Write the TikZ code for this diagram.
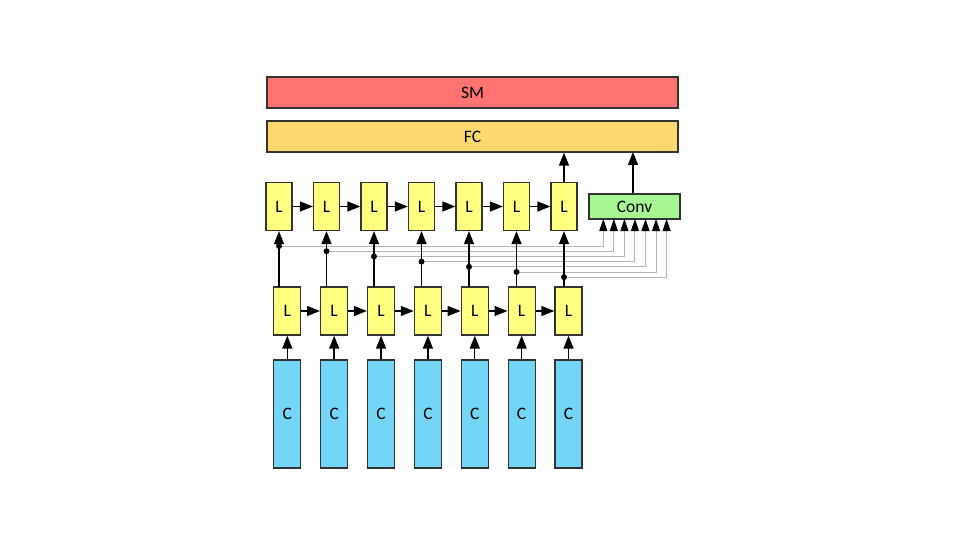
\documentclass[tikz,border=0pt]{standalone}
\usepackage{fontspec}
\setmainfont{Carlito}
\usetikzlibrary{arrows.meta}
\definecolor{smred}{RGB}{255,115,115}
\definecolor{fcyel}{RGB}{255,217,112}
\definecolor{lyel}{RGB}{255,255,128}
\definecolor{cblue}{RGB}{115,214,247}
\definecolor{convgr}{RGB}{166,247,146}
\definecolor{wire}{RGB}{180,180,180}
\tikzset{
  box/.style={draw=black!80, line width=1.3pt, inner sep=0pt, font=\fontsize{17.5}{20}\selectfont},
  lbox/.style={box, fill=lyel, minimum width=26pt, minimum height=48pt},
  cbox/.style={box, fill=cblue, minimum width=27pt, minimum height=108pt},
  arr/.style={line width=1.4pt, -{Triangle[length=13pt,width=10pt]}},
  garr/.style={wire, line width=1pt, -{Triangle[length=12pt,width=8pt,color=black]}},
  jdot/.style={circle, fill=black, inner sep=0pt, minimum size=6pt}
}
\begin{document}
\begin{tikzpicture}[x=1pt,y=-1pt]
\useasboundingbox (0,0) rectangle (960,540);
\node[box, fill=smred, minimum width=411pt, minimum height=31pt] (sm) at (472.5,92.5) {SM};
\node[box, fill=fcyel, minimum width=411pt, minimum height=31pt] (fc) at (472.5,136.5) {FC};
\node[box, fill=convgr, minimum width=91pt, minimum height=25pt] (conv) at (634.5,206.5) {Conv};
\foreach \i in {1,...,7}{
  \pgfmathsetmacro{\tx}{279+47.5*(\i-1)}
  \pgfmathsetmacro{\bx}{287.3+46.87*(\i-1)}
  \pgfmathsetmacro{\jy}{246+5.2*(\i-1)}
  \pgfmathsetmacro{\cx}{603.3+10.55*(\i-1)}
  \node[lbox] (t\i) at (\tx,206.5) {L};
  \node[lbox, minimum width=27pt] (b\i) at (\bx,311) {L};
  \node[cbox] (c\i) at (\bx,414) {C};
  \coordinate (bt\i) at (\tx,287);
  \coordinate (j\i) at (\tx,\jy);
  \coordinate (k\i) at (\cx,\jy);
  \coordinate (ci\i) at (\cx,219);
}
\foreach \i in {1,...,7}{
  \draw[garr] (j\i) -- (k\i) -- (ci\i);
}
\foreach \i in {1,...,7}{
  \draw[arr] (c\i) -- (b\i);
  \draw[arr] (bt\i) -- (t\i);
  \node[jdot] at (j\i) {};
}
\foreach \i/\n in {1/2,2/3,3/4,4/5,5/6,6/7}{
  \draw[arr] (t\i) -- (t\n);
  \draw[arr] (b\i) -- (b\n);
}
\draw[arr] (t7) -- (t7 |- fc.south);
\draw[arr] (conv.north -| 633,0) -- (633,152);
\end{tikzpicture}
\end{document}
